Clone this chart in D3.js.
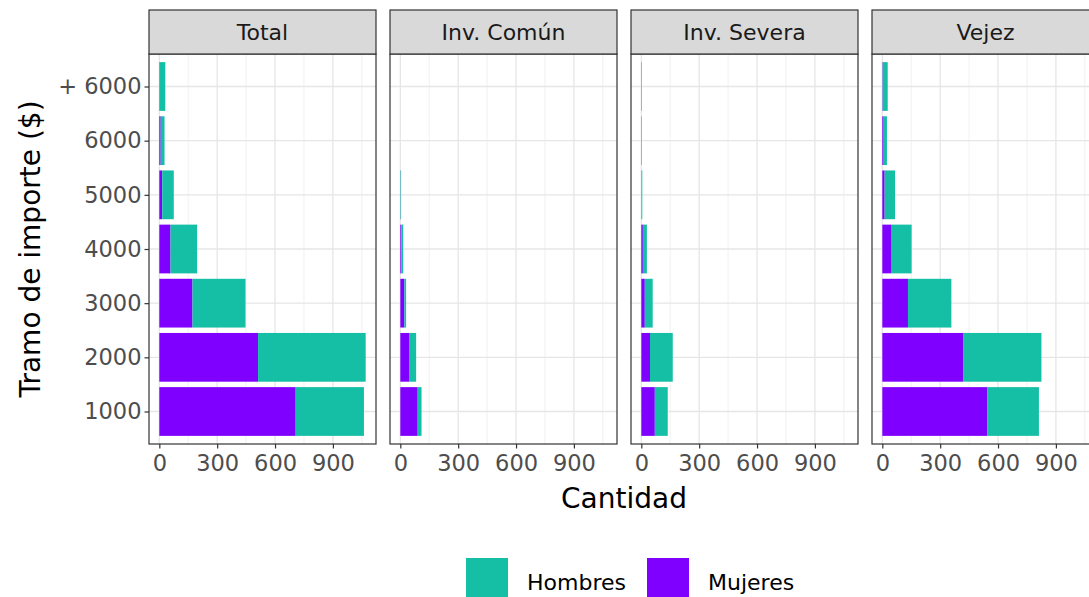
<!DOCTYPE html>
<html>
<head>
<meta charset="utf-8">
<script src="https://cdn.jsdelivr.net/npm/d3@7"></script>
<style>
  html, body { margin: 0; padding: 0; background: #ffffff; }
  svg { display: block; overflow: hidden; }
  text { font-family: "DejaVu Sans", sans-serif; }
</style>
</head>
<body>
<svg id="chart" width="1089" height="597"></svg>
<script>
// ---- data ----
const tramos = ["1000", "2000", "3000", "4000", "5000", "6000", "+ 6000"];
const panels = ["Total", "Inv. Común", "Inv. Severa", "Vejez"];
const series = ["Mujeres", "Hombres"];
const legendOrder = ["Hombres", "Mujeres"];
const xTicks = [0, 300, 600, 900];

const totalMujeres  = [707, 512, 172, 58, 15, 7, 2];
const totalHombres  = [354, 558, 275, 138, 60, 20, 29];
const comunMujeres  = [90, 48, 21, 5, 1, 0, 0];
const comunHombres  = [20, 34, 9, 10, 3, 0, 0];
const severaMujeres = [70, 45, 18, 8, 1, 0, 0];
const severaHombres = [67, 118, 41, 21, 4, 3, 3];
const vejezMujeres  = [545, 419, 133, 45, 12, 7, 2];
const vejezHombres  = [267, 406, 225, 107, 54, 17, 26];

const panelMujeres = [totalMujeres, comunMujeres, severaMujeres, vejezMujeres];
const panelHombres = [totalHombres, comunHombres, severaHombres, vejezHombres];

const colors = { Hombres: "#14BFA6", Mujeres: "#8000FF" };

// ---- layout ----
const svg = d3.select("#chart");
const panelLeft = 149, panelW = 227, panelStep = 241;
const panelTop = 54, panelBottom = 444;
const stripTop = 10;
const tickFont = 22.5;

const maxStack = d3.max(panels.map((p, i) => d3.max(tramos.map((t, j) => panelMujeres[i][j] + panelHombres[i][j]))));
const pad = maxStack * 0.05;
const x = d3.scaleLinear().domain([-pad, maxStack + pad]).range([0, panelW]);
const y = d3.scalePoint().domain(tramos).range([panelBottom, panelTop]).padding(0.6);
const barH = y.step() * 0.9;
const minorTicks = [150, 450, 750, 1050];

panels.forEach((pname, i) => {
  const g = svg.append("g").attr("transform", `translate(${panelLeft + i * panelStep},0)`);
  g.append("rect").attr("x", 0).attr("y", panelTop).attr("width", panelW).attr("height", panelBottom - panelTop)
    .attr("fill", "#ffffff");
  g.selectAll(".minor").data(minorTicks).enter().append("line")
    .attr("x1", d => x(d)).attr("x2", d => x(d)).attr("y1", panelTop).attr("y2", panelBottom)
    .attr("stroke", "#ebebeb").attr("stroke-width", 0.7);
  g.selectAll(".majx").data(xTicks).enter().append("line")
    .attr("x1", d => x(d)).attr("x2", d => x(d)).attr("y1", panelTop).attr("y2", panelBottom)
    .attr("stroke", "#e6e6e6").attr("stroke-width", 1.3);
  g.selectAll(".majy").data(tramos).enter().append("line")
    .attr("x1", 0).attr("x2", panelW).attr("y1", d => y(d)).attr("y2", d => y(d))
    .attr("stroke", "#e6e6e6").attr("stroke-width", 1.3);

  const rows = tramos.map((t, j) => ({ tramo: t, Mujeres: panelMujeres[i][j], Hombres: panelHombres[i][j] }));
  const stack = d3.stack().keys(series)(rows);
  stack.forEach(layer => {
    g.selectAll(null).data(layer).enter().append("rect")
      .attr("x", d => x(d[0]))
      .attr("width", d => Math.max(0, x(d[1]) - x(d[0])))
      .attr("y", d => y(d.data.tramo) - barH / 2)
      .attr("height", barH)
      .attr("fill", colors[layer.key]);
  });

  g.append("rect").attr("x", 0).attr("y", panelTop).attr("width", panelW).attr("height", panelBottom - panelTop)
    .attr("fill", "none").attr("stroke", "#333333").attr("stroke-width", 1.2);

  g.append("rect").attr("x", 0).attr("y", stripTop).attr("width", panelW).attr("height", panelTop - stripTop)
    .attr("fill", "#d9d9d9").attr("stroke", "#333333").attr("stroke-width", 1.2);
  g.append("text").attr("x", panelW / 2).attr("y", (stripTop + panelTop) / 2).attr("dy", "0.36em")
    .attr("text-anchor", "middle").attr("font-size", 22).attr("fill", "#1a1a1a").text(pname);

  const ax = g.append("g").attr("transform", `translate(0,${panelBottom})`)
    .call(d3.axisBottom(x).tickValues(xTicks).tickSize(4.5).tickPadding(7).tickFormat(d3.format("d")));
  ax.select(".domain").remove();
  ax.selectAll(".tick line").attr("stroke", "#333333").attr("stroke-width", 1.2);
  ax.selectAll(".tick text").attr("font-size", tickFont).attr("fill", "#4d4d4d").attr("font-family", "DejaVu Sans, sans-serif");
});

const ay = svg.append("g").attr("transform", `translate(${panelLeft},0)`)
  .call(d3.axisLeft(y).tickSize(4.5).tickPadding(3));
ay.select(".domain").remove();
ay.selectAll(".tick line").attr("stroke", "#333333").attr("stroke-width", 1.2);
ay.selectAll(".tick text").attr("font-size", tickFont).attr("fill", "#4d4d4d").attr("font-family", "DejaVu Sans, sans-serif");

const centerX = panelLeft + (3 * panelStep + panelW) / 2;
svg.append("text").attr("x", centerX).attr("y", 508).attr("text-anchor", "middle")
  .attr("font-size", 28).attr("fill", "#000").text("Cantidad");
svg.append("text").attr("transform", `translate(40,${(panelTop + panelBottom) / 2}) rotate(-90)`)
  .attr("text-anchor", "middle").attr("font-size", 28).attr("fill", "#000").text("Tramo de importe ($)");

const legX = [466, 647];
const legend = svg.append("g");
legendOrder.forEach((k, i) => {
  legend.append("rect").attr("x", legX[i]).attr("y", 558).attr("width", 42).attr("height", 42).attr("fill", colors[k]);
  legend.append("text").attr("x", legX[i] + 61).attr("y", 582).attr("dy", "0.36em")
    .attr("font-size", 22).attr("fill", "#000").text(k);
});
</script>
</body>
</html>
